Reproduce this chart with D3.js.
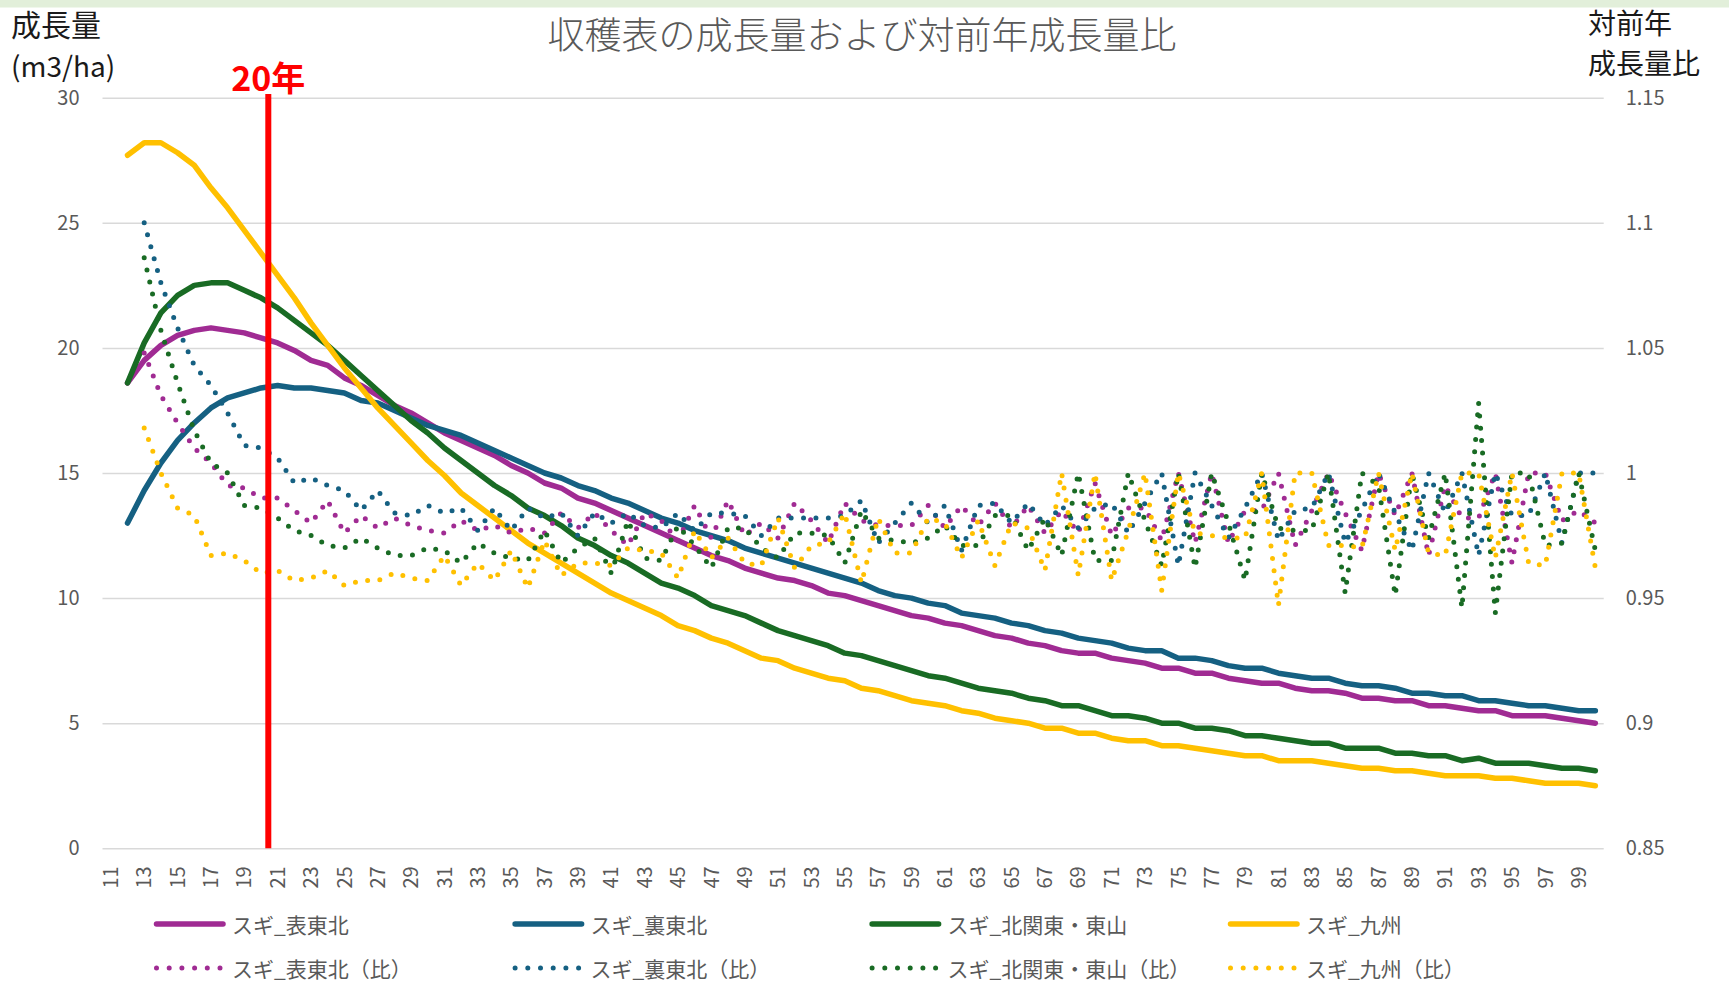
<!DOCTYPE html>
<html>
<head>
<meta charset="utf-8">
<script src="https://cdn.jsdelivr.net/npm/d3@7"></script>
<style>
  html, body { margin: 0; padding: 0; background: #ffffff; }
  svg { display: block; }
  text { font-family: "Noto Sans CJK JP", "Noto Sans", sans-serif; }
</style>
</head>
<body>
<svg id="chart" width="1729" height="994"></svg>
<script>
// ---------------- data ----------------
const ages = [11,12,13,14,15,16,17,18,19,20,21,22,23,24,25,26,27,28,29,30,
  31,32,33,34,35,36,37,38,39,40,41,42,43,44,45,46,47,48,49,50,
  51,52,53,54,55,56,57,58,59,60,61,62,63,64,65,66,67,68,69,70,
  71,72,73,74,75,76,77,78,79,80,81,82,83,84,85,86,87,88,89,90,
  91,92,93,94,95,96,97,98,99,100];
const xTickLabels = [11,13,15,17,19,21,23,25,27,29,31,33,35,37,39,41,43,45,47,49,
  51,53,55,57,59,61,63,65,67,69,71,73,75,77,79,81,83,85,87,89,91,93,95,97,99];
const leftTicks = [0, 5, 10, 15, 20, 25, 30];
const rightTicks = [0.85, 0.9, 0.95, 1, 1.05, 1.1, 1.15];

// growth (m3/ha), ages 11..100 (age 11 has no value)
const growthOmote = [null,
  18.6,19.5,20.1,20.5,20.7,20.8,20.7,20.6,20.4,20.2,
  19.9,19.5,19.3,18.8,18.5,18.1,17.7,17.4,17.0,16.6,
  16.3,16.0,15.7,15.3,15.0,14.6,14.4,14.0,13.8,13.5,
  13.2,12.9,12.6,12.3,12.0,11.7,11.5,11.2,11.0,10.8,
  10.7,10.5,10.2,10.1,9.9,9.7,9.5,9.3,9.2,9.0,
  8.9,8.7,8.5,8.4,8.2,8.1,7.9,7.8,7.8,7.6,
  7.5,7.4,7.2,7.2,7.0,7.0,6.8,6.7,6.6,6.6,
  6.4,6.3,6.3,6.2,6.0,6.0,5.9,5.9,5.7,5.7,
  5.6,5.5,5.5,5.3,5.3,5.3,5.2,5.1,5.0];
const growthUra = [null,
  13.0,14.3,15.4,16.3,17.0,17.6,18.0,18.2,18.4,18.5,
  18.4,18.4,18.3,18.2,17.9,17.8,17.5,17.2,16.9,16.7,
  16.5,16.2,15.9,15.6,15.3,15.0,14.8,14.5,14.3,14.0,
  13.8,13.5,13.2,13.0,12.7,12.5,12.3,12.0,11.8,11.6,
  11.4,11.2,11.0,10.8,10.6,10.3,10.1,10.0,9.8,9.7,
  9.4,9.3,9.2,9.0,8.9,8.7,8.6,8.4,8.3,8.2,
  8.0,7.9,7.9,7.6,7.6,7.5,7.3,7.2,7.2,7.0,
  6.9,6.8,6.8,6.6,6.5,6.5,6.4,6.2,6.2,6.1,
  6.1,5.9,5.9,5.8,5.7,5.7,5.6,5.5,5.5];
const growthKitakanto = [null,
  18.6,20.2,21.4,22.1,22.5,22.6,22.6,22.3,22.0,21.6,
  21.1,20.6,20.1,19.5,18.9,18.3,17.7,17.1,16.6,16.0,
  15.5,15.0,14.5,14.1,13.6,13.3,12.9,12.4,12.1,11.7,
  11.4,11.0,10.6,10.4,10.1,9.7,9.5,9.3,9.0,8.7,
  8.5,8.3,8.1,7.8,7.7,7.5,7.3,7.1,6.9,6.8,
  6.6,6.4,6.3,6.2,6.0,5.9,5.7,5.7,5.5,5.3,
  5.3,5.2,5.0,5.0,4.8,4.8,4.7,4.5,4.5,4.4,
  4.3,4.2,4.2,4.0,4.0,4.0,3.8,3.8,3.7,3.7,
  3.5,3.6,3.4,3.4,3.4,3.3,3.2,3.2,3.1];
const growthKyushu = [null,
  27.7,28.2,28.2,27.8,27.3,26.4,25.6,24.7,23.8,22.9,
  22.0,21.0,20.1,19.2,18.4,17.6,16.9,16.2,15.5,14.9,
  14.2,13.7,13.2,12.7,12.2,11.8,11.4,11.0,10.6,10.2,
  9.9,9.6,9.3,8.9,8.7,8.4,8.2,7.9,7.6,7.5,
  7.2,7.0,6.8,6.7,6.4,6.3,6.1,5.9,5.8,5.7,
  5.5,5.4,5.2,5.1,5.0,4.8,4.8,4.6,4.6,4.4,
  4.3,4.3,4.1,4.1,4.0,3.9,3.8,3.7,3.7,3.5,
  3.5,3.5,3.4,3.3,3.2,3.2,3.1,3.1,3.0,2.9,
  2.9,2.9,2.8,2.8,2.7,2.6,2.6,2.6,2.5];

// year-on-year ratio, ages 11..100 (ages 11, 12 have no value)
const ratioOmote = [null, null,
  1.048,1.031,1.020,1.010,1.004,0.995,0.994,0.990,0.990,0.985,
  0.980,0.989,0.976,0.983,0.978,0.982,0.979,0.977,0.976,0.981,
  0.977,0.979,0.976,0.978,0.976,0.984,0.978,0.984,0.977,0.971,
  0.984,0.981,0.973,0.987,0.974,0.989,0.975,0.980,0.974,0.988,
  0.981,0.972,0.988,0.981,0.979,0.979,0.979,0.987,0.978,0.987,
  0.979,0.988,0.978,0.987,0.976,0.985,0.976,0.996,0.975,0.986,
  0.986,0.973,1.000,0.972,1.000,0.972,0.985,0.985,1.000,0.971,
  0.985,1.000,0.984,0.969,1.000,0.983,1.000,0.967,0.995,0.982,
  0.982,1.000,0.964,1.000,1.000,0.981,0.985,0.980];
const ratioUra = [null, null,
  1.100,1.076,1.058,1.043,1.035,1.024,1.011,1.010,1.006,0.996,
  0.998,0.995,0.993,0.985,0.993,0.984,0.983,0.987,0.984,0.986,
  0.977,0.986,0.977,0.986,0.982,0.984,0.975,0.984,0.980,0.984,
  0.979,0.978,0.984,0.977,0.984,0.984,0.983,0.975,0.982,0.982,
  0.982,0.982,0.983,0.989,0.972,0.980,0.988,0.980,0.987,0.969,
  0.987,0.988,0.980,0.988,0.979,0.987,0.978,0.986,0.988,0.976,
  0.988,1.000,0.963,1.000,0.987,0.974,0.986,1.000,0.973,0.985,
  0.986,1.000,0.972,0.985,1.000,0.984,0.969,1.000,0.984,1.000,
  0.967,1.000,0.983,0.983,1.000,0.972,1.000,1.000];
const ratioKitakanto = [null, null,
  1.086,1.057,1.036,1.017,1.004,1.000,0.987,0.986,0.982,0.977,
  0.975,0.971,0.970,0.974,0.970,0.967,0.967,0.970,0.969,0.964,
  0.972,0.968,0.966,0.965,0.977,0.964,0.970,0.974,0.960,0.981,
  0.966,0.965,0.979,0.971,0.962,0.978,0.978,0.970,0.966,0.976,
  0.976,0.975,0.964,0.985,0.974,0.973,0.972,0.974,0.979,0.971,
  0.971,0.983,0.983,0.969,0.982,0.967,1.000,0.965,0.965,1.000,
  0.981,0.963,1.000,0.962,1.000,0.980,0.957,1.000,0.978,0.977,
  0.977,1.000,0.952,1.000,0.995,0.951,1.000,0.974,1.000,0.946,
  1.028,0.944,1.000,1.000,0.971,0.972,1.000,0.969];
const ratioKyushu = [null, null,
  1.018,1.000,0.986,0.983,0.967,0.968,0.965,0.960,0.961,0.957,
  0.958,0.961,0.955,0.957,0.957,0.960,0.958,0.957,0.967,0.955,
  0.964,0.957,0.969,0.954,0.973,0.959,0.964,0.964,0.963,0.970,
  0.969,0.968,0.958,0.977,0.966,0.974,0.964,0.963,0.982,0.962,
  0.971,0.972,0.984,0.956,0.982,0.968,0.968,0.982,0.980,0.966,
  0.981,0.963,0.980,0.978,0.961,1.000,0.959,1.000,0.957,0.977,
  1.000,0.953,1.000,0.976,0.975,0.974,0.974,1.000,0.947,1.000,
  1.000,0.971,0.971,0.970,1.000,0.969,1.000,0.968,0.967,1.000,
  1.000,0.966,1.000,0.964,0.963,1.000,1.000,0.962];

const markerAge = 20;

// ---------------- styling / layout ----------------
const COLORS = { omote: "#A02B93", ura: "#156082", kita: "#196B24", kyushu: "#FFC000" };
const plot = { left: 102.5, right: 1603.7, top: 97.7, bottom: 848.3 };

const svg = d3.select("#chart");

// top band
svg.append("rect").attr("x", 0).attr("y", 0).attr("width", 1729).attr("height", 7.5)
  .attr("fill", "#E2EFDA");

const x = d3.scaleBand().domain(ages).range([plot.left, plot.right]).padding(0);
const cx = a => x(a) + x.bandwidth() / 2;
const yL = d3.scaleLinear().domain([0, 30]).range([plot.bottom, plot.top]);
const yR = d3.scaleLinear().domain([0.85, 1.15]).range([plot.bottom, plot.top]);

// left axis with gridlines
const gL = svg.append("g").attr("transform", `translate(${plot.left},0)`)
  .call(d3.axisLeft(yL).tickValues(leftTicks).tickSize(-(plot.right - plot.left)).tickPadding(23));
gL.select(".domain").remove();
gL.selectAll(".tick line").attr("stroke", "#D9D9D9").attr("stroke-width", 1.5);
gL.selectAll(".tick text").attr("fill", "#595959").attr("font-size", 20);

// right axis
const gR = svg.append("g").attr("transform", `translate(${plot.right},0)`)
  .call(d3.axisRight(yR).tickValues(rightTicks).tickSize(0).tickPadding(22).tickFormat(d => String(d)));
gR.select(".domain").remove();
gR.selectAll(".tick text").attr("fill", "#595959").attr("font-size", 20);

// bottom axis
const gB = svg.append("g").attr("transform", `translate(0,${plot.bottom})`)
  .call(d3.axisBottom(x).tickValues(xTickLabels).tickSize(0));
gB.select(".domain").remove();
gB.selectAll(".tick text")
  .attr("transform", "rotate(-90)")
  .attr("x", -18).attr("y", 0).attr("dy", "0.36em")
  .attr("text-anchor", "end")
  .attr("fill", "#595959").attr("font-size", 20);

// lines
const lineL = d3.line().defined(d => d != null).x((d, i) => cx(ages[i])).y(d => yL(d));
const lineR = d3.line().defined(d => d != null).x((d, i) => cx(ages[i])).y(d => yR(d));

const solidSeries = [
  { data: growthOmote, color: COLORS.omote },
  { data: growthUra, color: COLORS.ura },
  { data: growthKitakanto, color: COLORS.kita },
  { data: growthKyushu, color: COLORS.kyushu }
];
const dottedSeries = [
  { data: ratioOmote, color: COLORS.omote },
  { data: ratioUra, color: COLORS.ura },
  { data: ratioKitakanto, color: COLORS.kita },
  { data: ratioKyushu, color: COLORS.kyushu }
];

solidSeries.forEach(s => {
  svg.append("path").attr("d", lineL(s.data)).attr("fill", "none")
    .attr("stroke", s.color).attr("stroke-width", 5.5)
    .attr("stroke-linejoin", "round").attr("stroke-linecap", "round");
});
dottedSeries.forEach(s => {
  svg.append("path").attr("d", lineR(s.data)).attr("fill", "none")
    .attr("stroke", s.color).attr("stroke-width", 5)
    .attr("stroke-dasharray", "0 12.4")
    .attr("stroke-linejoin", "round").attr("stroke-linecap", "round");
});

// red 20-year marker (at the boundary after the 20-year category)
const mx = x(markerAge + 1) - 1;
svg.append("line").attr("x1", mx).attr("x2", mx).attr("y1", 94).attr("y2", plot.bottom)
  .attr("stroke", "#FF0000").attr("stroke-width", 6);
svg.append("text").attr("x", mx).attr("y", 76).attr("text-anchor", "middle")
  .attr("dominant-baseline", "central").attr("fill", "#FF0000")
  .attr("font-size", 34).attr("font-weight", 700).text(markerAge + "年");

// title
svg.append("text").attr("x", 862).attr("y", 33).attr("text-anchor", "middle")
  .attr("dominant-baseline", "central").attr("fill", "#595959")
  .attr("font-size", 37).attr("font-weight", 300)
  .text("収穫表の成長量および対前年成長量比");

// axis titles
const axTitle = (txt, xx, yy, fs) => svg.append("text").attr("x", xx).attr("y", yy)
  .attr("dominant-baseline", "central").attr("fill", "#1a1a1a")
  .attr("font-size", fs).text(txt);
axTitle("成長量", 11, 23, 30);
axTitle("(m3/ha)", 11, 65, 28);
axTitle("対前年", 1588, 22, 28);
axTitle("成長量比", 1588, 62, 28);

// legend
const legendNames = ["スギ_表東北", "スギ_裏東北", "スギ_北関東・東山", "スギ_九州"];
const legendColors = [COLORS.omote, COLORS.ura, COLORS.kita, COLORS.kyushu];
const legX = [154, 512.6, 869.6, 1228];
const legY = [924, 968];
legendNames.forEach((n, i) => {
  [0, 1].forEach(row => {
    const g = svg.append("g");
    const sym = g.append("line").attr("x1", legX[i] + 2.5).attr("x2", legX[i] + 69)
      .attr("y1", legY[row]).attr("y2", legY[row])
      .attr("stroke", legendColors[i]).attr("stroke-linecap", "round");
    if (row === 0) sym.attr("stroke-width", 5.5);
    else sym.attr("stroke-width", 5).attr("stroke-dasharray", "0 12.7");
    g.append("text").attr("x", legX[i] + 78).attr("y", legY[row])
      .attr("dominant-baseline", "central").attr("fill", "#595959")
      .attr("font-size", 21).text(row === 0 ? n : n + "（比）");
  });
});
</script>
</body>
</html>
